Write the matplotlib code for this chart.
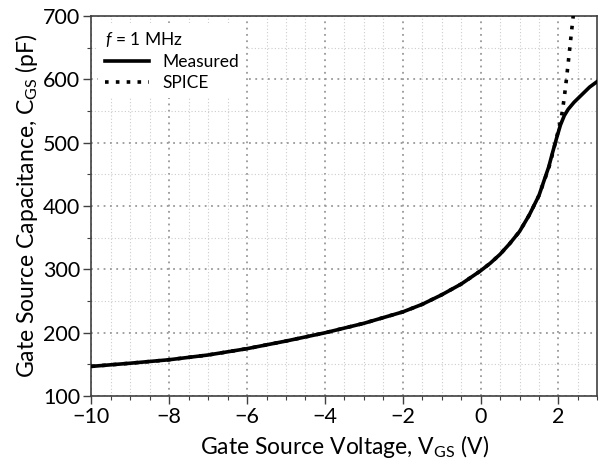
import matplotlib
matplotlib.use("Agg")
from matplotlib import pyplot as plt
from matplotlib.ticker import MultipleLocator

plt.rcParams['font.family'] = ['Lato', 'DejaVu Sans']
plt.rcParams['mathtext.fontset'] = 'custom'
plt.rcParams['mathtext.rm'] = 'Lato'
plt.rcParams['mathtext.it'] = 'Lato:italic'

# measured C_GS vs V_GS at 1 MHz
v_meas = [-10, -9, -8, -7, -6, -5, -4, -3, -2, -1.5, -1, -0.5, 0, 0.25, 0.5, 0.75, 1.0,
          1.25, 1.5, 1.75, 1.85, 1.95, 2.05, 2.15, 2.25, 2.4, 2.6, 2.8, 3.0]
c_meas = [147, 152, 157.5, 165, 175, 187, 200, 215, 233, 245, 260, 277, 298, 310, 324, 341, 360,
          386, 417, 462, 485, 507, 528, 543, 553, 564, 576, 588, 597]

# SPICE model
v_spice = [-10, -9, -8, -7, -6, -5, -4, -3, -2, -1.5, -1, -0.5, 0, 0.25, 0.5, 0.75, 1.0,
           1.25, 1.5, 1.75, 1.85, 1.95, 2.05, 2.1, 2.15, 2.2, 2.25, 2.3, 2.35, 2.4]
c_spice = [147, 152, 157.5, 165, 175, 187, 200, 215, 233, 245, 260, 277, 298, 310, 324, 341, 360,
           386, 417, 460, 483, 508, 533, 550, 572, 598, 626, 655, 684, 712]

fig = plt.figure(figsize=(6.01, 4.75), dpi=100)
ax = fig.add_axes([0.152, 0.166, 0.842, 0.800])

ax.plot(v_meas, c_meas, color='black', lw=2.6, label='Measured', zorder=3,
        solid_joinstyle='round')
ax.plot(v_spice, c_spice, color='black', lw=2.6, ls=(0, (1, 2)), label='SPICE', zorder=4)

ax.set_xlim(-10, 3)
ax.set_ylim(100, 700)
ax.xaxis.set_major_locator(MultipleLocator(2))
ax.xaxis.set_minor_locator(MultipleLocator(0.5))
ax.yaxis.set_major_locator(MultipleLocator(100))
ax.yaxis.set_minor_locator(MultipleLocator(50))

ax.grid(which='major', color='#999999', ls=(0, (1, 2.5)), lw=1.3)
ax.grid(which='minor', color='#cccccc', ls=(0, (1, 2)), lw=0.8)
ax.set_axisbelow(True)

ax.tick_params(which='major', direction='out', length=6, width=1, labelsize=15.5,
               color='#404040', pad=2)
ax.tick_params(which='minor', direction='out', length=3, width=0.8, color='#404040')
for s in ax.spines.values():
    s.set_color('#404040')
    s.set_linewidth(1.2)

ax.set_xlabel(r'Gate Source Voltage, V$_\mathregular{GS}$ (V)', fontsize=16.5, labelpad=4)
ax.set_ylabel(r'Gate Source Capacitance, C$_\mathregular{GS}$ (pF)', fontsize=16.5, labelpad=2)

leg = ax.legend(loc='upper left', title=r'$\mathit{f}$ = 1 MHz', fontsize=12.5,
                title_fontsize=12.5, frameon=True, framealpha=1, edgecolor='none',
                fancybox=False, handlelength=2.5, borderaxespad=0.4, labelspacing=0.3)
leg._legend_box.align = 'left'

fig.savefig('out.png', dpi=100)
